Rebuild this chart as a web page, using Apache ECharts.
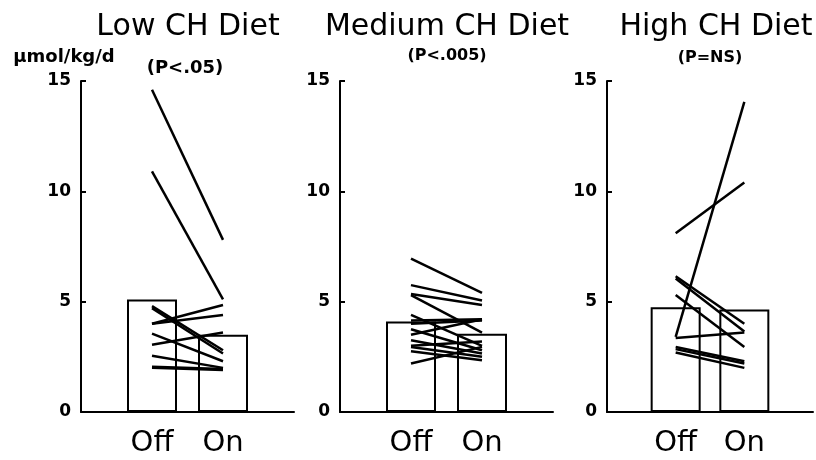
<!DOCTYPE html>
<html>
<head>
<meta charset="utf-8">
<script src="https://cdn.jsdelivr.net/npm/echarts@6/dist/echarts.min.js"></script>
<style>
  html, body { margin: 0; padding: 0; background: #fff; }
  #chart { width: 816px; height: 460px; }
</style>
</head>
<body>
<div id="chart"></div>
<script>
// Category slots: empty padding slots either side of Off / On
const categories = ['', 'Off', 'On', ''];
const panelTitles = ['Low CH Diet', 'Medium CH Diet', 'High CH Diet'];
const panelStats = ['(P<.05)', '(P<.005)', '(P=NS)'];
const unitLabel = 'µmol/kg/d';

// Group means (bars): [Off, On]
const lowBars = [5.1, 3.5];
const medBars = [4.1, 3.55];
const highBars = [4.75, 4.65];

// Individual subjects, paired Off -> On
const lowOff = [14.6, 10.9, 4.8, 4.7, 4.0, 4.0, 3.55, 3.05, 2.55, 2.05, 2.0];
const lowOn  = [7.8, 5.1, 2.8, 2.65, 4.85, 4.4, 2.3, 3.6, 2.0, 1.95, 1.9];

const medOff = [6.95, 5.75, 5.35, 5.3, 4.4, 4.15, 4.0, 3.75, 3.5, 3.25, 3.0, 2.95, 2.75, 2.2];
const medOn  = [5.4, 5.05, 4.85, 3.6, 3.0, 4.2, 4.15, 2.8, 4.2, 2.65, 3.2, 2.5, 2.35, 2.95];

const highOff = [8.1, 3.4, 6.15, 6.05, 5.3, 3.35, 2.95, 2.85, 2.7];
const highOn  = [10.4, 14.05, 4.0, 3.65, 2.95, 3.6, 2.3, 2.2, 2.0];

const panels = [
  { bars: lowBars, off: lowOff, on: lowOn },
  { bars: medBars, off: medOff, on: medOn },
  { bars: highBars, off: highOff, on: highOn }
];

// Layout of the three plot areas
const gridLefts = [81, 340, 607];
const gridTop = 81, gridHeight = 331, gridWidth = 213;
const titleX = [188, 447, 716];
const statX = [185, 447, 710];
const statY = [68, 56, 58];
const statSize = [18, 16, 16];

const FONT = 'DejaVu Sans';
const ink = '#000';

const grid = [], xAxis = [], yAxis = [], series = [], graphic = [];

panels.forEach((p, i) => {
  grid.push({ left: gridLefts[i], top: gridTop, width: gridWidth, height: gridHeight, containLabel: false });
  xAxis.push({
    type: 'category', gridIndex: i, data: categories, boundaryGap: false,
    axisLine: { show: true, lineStyle: { color: ink, width: 2 } },
    axisTick: { show: false },
    splitLine: { show: false },
    axisLabel: { interval: 0, color: ink, fontSize: 29, fontFamily: FONT, margin: 17 }
  });
  yAxis.push({
    type: 'value', gridIndex: i, min: 0, max: 15, interval: 5,
    axisLine: { show: true, lineStyle: { color: ink, width: 2 } },
    axisTick: { show: true, inside: true, length: 5, lineStyle: { color: ink, width: 2 } },
    splitLine: { show: false },
    axisLabel: { color: ink, fontSize: 17, fontWeight: 'bold', fontFamily: FONT, margin: 10 }
  });
  series.push({
    type: 'bar', xAxisIndex: i, yAxisIndex: i,
    data: ['-', p.bars[0], p.bars[1], '-'],
    barWidth: 50, silent: true, z: 2,
    itemStyle: { color: '#fff', borderColor: ink, borderWidth: 2 }
  });
  p.off.forEach((v, k) => {
    series.push({
      type: 'line', xAxisIndex: i, yAxisIndex: i,
      data: ['-', v, p.on[k], '-'],
      symbol: 'none', silent: true, z: 3,
      lineStyle: { color: ink, width: 2.5 }
    });
  });
  graphic.push({
    type: 'text', x: titleX[i], y: 27, silent: true,
    style: { text: panelTitles[i], fill: ink, fontSize: 30, fontFamily: FONT,
             textAlign: 'center', textVerticalAlign: 'middle' }
  });
  graphic.push({
    type: 'text', x: statX[i], y: statY[i], silent: true,
    style: { text: panelStats[i], fill: ink, fontSize: statSize[i], fontWeight: 'bold', fontFamily: FONT,
             textAlign: 'center', textVerticalAlign: 'middle' }
  });
});

graphic.push({
  type: 'text', x: 64, y: 57, silent: true,
  style: { text: unitLabel, fill: ink, fontSize: 18, fontWeight: 'bold', fontFamily: FONT,
           textAlign: 'center', textVerticalAlign: 'middle' }
});

const chart = echarts.init(document.getElementById('chart'), null, { renderer: 'canvas' });
chart.setOption({
  backgroundColor: '#fff',
  animation: false,
  grid, xAxis, yAxis, series, graphic
});
</script>
</body>
</html>
